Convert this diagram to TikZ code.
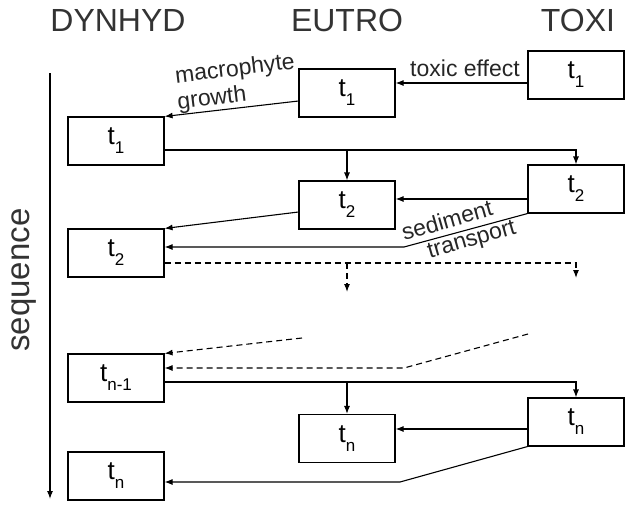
\documentclass[tikz,border=0pt]{standalone}
\usepackage{fontspec}
\setmainfont{Liberation Sans}
\usetikzlibrary{arrows.meta}

\newcommand{\tsub}[1]{t\raisebox{-9pt}{\fontsize{17}{17}\selectfont #1}}

\begin{document}
\begin{tikzpicture}[x=1pt,y=-1pt,
    box/.style={draw,line width=1.1pt,minimum width=96pt,minimum height=48pt,
      inner sep=0pt,font=\fontsize{26}{26}\selectfont},
    hdr/.style={anchor=base,text=black!80,font=\fontsize{32}{32}\selectfont},
    lbl/.style={text=black!85,inner sep=0pt,font=\fontsize{23}{23}\selectfont},
    arr/.style={line width=1.1pt,-{Latex[length=8pt,width=6pt]}},
    dsh/.style={arr,dash pattern=on 6pt off 4pt}]
  \useasboundingbox (0,0) rectangle (627,504);

  % column titles
  \node[hdr] (hd) at (118,31) {DYNHYD};
  \node[hdr] (he) at (347,31) {EUTRO};
  \node[hdr] (ht) at (578,31) {TOXI};

  % time axis
  \coordinate (s0) at (50,73);
  \coordinate (s1) at (50,499);
  \draw[arr] (s0) -- (s1);
  \node[rotate=90,text=black!80,font=\fontsize{33}{33}\selectfont] (seq) at (24,280) {sequence};

  % boxes
  \node[box] (x1) at (576,75) {\tsub{1}};
  \node[box] (e1) at (347,93) {\tsub{1}};
  \node[box] (d1) at (116,141) {\tsub{1}};
  \node[box] (x2) at (576,189) {\tsub{2}};
  \node[box] (e2) at (347,205) {\tsub{2}};
  \node[box] (d2) at (116,253) {\tsub{2}};
  \node[box] (dm) at (116,378) {\tsub{n-1}};
  \node[box] (xn) at (576,422) {\tsub{n}};
  \node[box] (en) at (347,438.5) {\tsub{n}};
  \node[box] (dn) at (116,476) {\tsub{n}};

  % step 1
  \draw[arr] ([yshift=-8pt]x1.west) -- ([yshift=-8pt]x1.west -| e1.east);
  \node[lbl] (tox) at (465,68) {toxic effect};
  \draw[arr] ([yshift=-8pt]e1.west) -- (d1.north east);
  \node[lbl,rotate=7] (mac) at (235,70) {macrophyte};
  \node[lbl,rotate=7] (gro) at (212,99) {growth};
  \coordinate (b1) at ([yshift=-9pt]d1.east);
  \draw[arr] (b1) -| (x2.north);
  \draw[arr] (b1 -| e2.north) -- (e2.north);

  % step 2
  \draw[arr] ([yshift=-10pt]x2.west) -- ([yshift=-10pt]x2.west -| e2.east);
  \draw[arr] ([yshift=-7pt]e2.west) -- (d2.north east);
  \coordinate (k1) at (404,247);
  \draw[arr] (x2.south west) -- (k1) -- ([yshift=6pt]d2.east);
  \node[lbl,rotate=16] (sed) at (447,220) {sediment};
  \node[lbl,rotate=16] (tra) at (472,241) {transport};
  \coordinate (b2) at ([yshift=-10pt]d2.east);
  \coordinate (g1) at (576,278);
  \coordinate (g2) at (347,292);
  \draw[dsh] (b2) -| (g1);
  \draw[dsh] (b2 -| g2) -- (g2);

  % step n-1
  \coordinate (g3) at (302,338);
  \coordinate (g4) at (528,334);
  \coordinate (k2) at (404,368);
  \draw[dsh] (g3) -- (dm.north east);
  \draw[dsh] (g4) -- (k2) -- ([yshift=10pt]dm.east);
  \coordinate (b3) at ([yshift=-4pt]dm.east);
  \draw[arr] (b3) -| (xn.north);
  \draw[arr] (b3 -| en.north) -- (en.north);

  % step n
  \draw[arr] ([yshift=-7pt]xn.west) -- ([yshift=-7pt]xn.west -| en.east);
  \coordinate (k3) at (400,482);
  \draw[arr] (xn.south west) -- (k3) -- ([yshift=-6pt]dn.east);
\end{tikzpicture}
\end{document}
